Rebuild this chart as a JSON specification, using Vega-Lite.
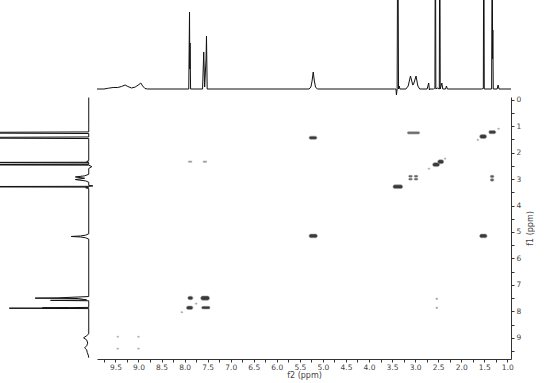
{
  "$schema": "https://vega.github.io/schema/vega-lite/v6.json",
  "padding": 0,
  "background": "white",
  "columns": 2,
  "spacing": 0,
  "bounds": "flush",
  "datasets": {
    "top": [
      {"ppm": 9.9, "intensity": 0}, {"ppm": 9.75, "intensity": 0}, {"ppm": 9.65, "intensity": 0.8}, {"ppm": 9.55, "intensity": 1.5},
      {"ppm": 9.45, "intensity": 1.5}, {"ppm": 9.37, "intensity": 2.5}, {"ppm": 9.29, "intensity": 4}, {"ppm": 9.23, "intensity": 2.5},
      {"ppm": 9.15, "intensity": 1}, {"ppm": 9.07, "intensity": 2}, {"ppm": 8.99, "intensity": 4.5}, {"ppm": 8.95, "intensity": 6},
      {"ppm": 8.91, "intensity": 3}, {"ppm": 8.86, "intensity": 0.5}, {"ppm": 8.8, "intensity": 0},
      {"ppm": 7.91, "intensity": 0}, {"ppm": 7.893, "intensity": 77}, {"ppm": 7.887, "intensity": 20}, {"ppm": 7.882, "intensity": 46}, {"ppm": 7.87, "intensity": 0},
      {"ppm": 7.61, "intensity": 0}, {"ppm": 7.585, "intensity": 37}, {"ppm": 7.565, "intensity": 2}, {"ppm": 7.535, "intensity": 30}, {"ppm": 7.525, "intensity": 53}, {"ppm": 7.51, "intensity": 0},
      {"ppm": 5.3, "intensity": 0}, {"ppm": 5.26, "intensity": 2}, {"ppm": 5.235, "intensity": 8}, {"ppm": 5.21, "intensity": 17}, {"ppm": 5.185, "intensity": 8}, {"ppm": 5.16, "intensity": 2}, {"ppm": 5.12, "intensity": 0},
      {"ppm": 3.45, "intensity": 0}, {"ppm": 3.415, "intensity": 0}, {"ppm": 3.405, "intensity": -6}, {"ppm": 3.39, "intensity": 0}, {"ppm": 3.375, "intensity": 200}, {"ppm": 3.36, "intensity": 0}, {"ppm": 3.345, "intensity": 3}, {"ppm": 3.33, "intensity": 0},
      {"ppm": 3.2, "intensity": 0}, {"ppm": 3.15, "intensity": 3}, {"ppm": 3.1, "intensity": 13}, {"ppm": 3.05, "intensity": 4}, {"ppm": 3.035, "intensity": 4.5}, {"ppm": 2.98, "intensity": 13}, {"ppm": 2.94, "intensity": 3}, {"ppm": 2.9, "intensity": 0},
      {"ppm": 2.74, "intensity": 0}, {"ppm": 2.705, "intensity": 6}, {"ppm": 2.69, "intensity": -1}, {"ppm": 2.68, "intensity": 0},
      {"ppm": 2.6, "intensity": 0}, {"ppm": 2.57, "intensity": 1}, {"ppm": 2.56, "intensity": 200}, {"ppm": 2.55, "intensity": 0}, {"ppm": 2.52, "intensity": 1},
      {"ppm": 2.475, "intensity": 0}, {"ppm": 2.465, "intensity": 200}, {"ppm": 2.455, "intensity": 0}, {"ppm": 2.42, "intensity": 6}, {"ppm": 2.4, "intensity": 0},
      {"ppm": 2.34, "intensity": 0}, {"ppm": 2.32, "intensity": 3}, {"ppm": 2.3, "intensity": 0},
      {"ppm": 1.56, "intensity": 0}, {"ppm": 1.52, "intensity": 0.5}, {"ppm": 1.51, "intensity": 200}, {"ppm": 1.5, "intensity": 0},
      {"ppm": 1.34, "intensity": 0}, {"ppm": 1.326, "intensity": 200}, {"ppm": 1.32, "intensity": 30}, {"ppm": 1.314, "intensity": 59}, {"ppm": 1.305, "intensity": 0},
      {"ppm": 1.22, "intensity": 0}, {"ppm": 1.2, "intensity": 4}, {"ppm": 1.18, "intensity": 0}, {"ppm": 0.92, "intensity": 0}
    ],
    "left": [
      {"ppm": -0.08, "intensity": 0}, {"ppm": 1.0, "intensity": 0}, {"ppm": 1.22, "intensity": 0}, {"ppm": 1.25, "intensity": 200}, {"ppm": 1.28, "intensity": 0},
      {"ppm": 1.41, "intensity": 0}, {"ppm": 1.44, "intensity": 200}, {"ppm": 1.47, "intensity": 0},
      {"ppm": 2.3, "intensity": 0}, {"ppm": 2.34, "intensity": 2}, {"ppm": 2.365, "intensity": 0}, {"ppm": 2.375, "intensity": 200}, {"ppm": 2.39, "intensity": 0},
      {"ppm": 2.445, "intensity": 0}, {"ppm": 2.46, "intensity": 200}, {"ppm": 2.475, "intensity": 0}, {"ppm": 2.53, "intensity": -3}, {"ppm": 2.6, "intensity": 0},
      {"ppm": 2.82, "intensity": 0}, {"ppm": 2.88, "intensity": 4}, {"ppm": 2.92, "intensity": 13}, {"ppm": 2.97, "intensity": 4}, {"ppm": 3.02, "intensity": 13}, {"ppm": 3.07, "intensity": 3}, {"ppm": 3.12, "intensity": 0},
      {"ppm": 3.24, "intensity": 0}, {"ppm": 3.26, "intensity": -4}, {"ppm": 3.275, "intensity": 0}, {"ppm": 3.29, "intensity": 200}, {"ppm": 3.305, "intensity": 0}, {"ppm": 3.33, "intensity": 3}, {"ppm": 3.36, "intensity": 0},
      {"ppm": 5.07, "intensity": 0}, {"ppm": 5.12, "intensity": 3}, {"ppm": 5.15, "intensity": 8}, {"ppm": 5.17, "intensity": 17}, {"ppm": 5.19, "intensity": 8}, {"ppm": 5.22, "intensity": 3}, {"ppm": 5.27, "intensity": 0},
      {"ppm": 7.44, "intensity": 0}, {"ppm": 7.49, "intensity": 30}, {"ppm": 7.5, "intensity": 52}, {"ppm": 7.515, "intensity": 10}, {"ppm": 7.57, "intensity": 2}, {"ppm": 7.585, "intensity": 37}, {"ppm": 7.6, "intensity": 0},
      {"ppm": 7.85, "intensity": 0}, {"ppm": 7.87, "intensity": 45}, {"ppm": 7.875, "intensity": 20}, {"ppm": 7.88, "intensity": 77}, {"ppm": 7.895, "intensity": 0},
      {"ppm": 8.85, "intensity": 0}, {"ppm": 8.92, "intensity": 2}, {"ppm": 9.0, "intensity": 5}, {"ppm": 9.08, "intensity": 2}, {"ppm": 9.2, "intensity": 1},
      {"ppm": 9.3, "intensity": 2}, {"ppm": 9.38, "intensity": 4}, {"ppm": 9.45, "intensity": 2}, {"ppm": 9.55, "intensity": 1.5}, {"ppm": 9.65, "intensity": 0.5}, {"ppm": 9.75, "intensity": 0}
    ],
    "peaks": [
      {"x1": 5.3, "x2": 5.13, "y1": 1.38, "y2": 1.5, "level": 1},
      {"x1": 3.17, "x2": 2.9, "y1": 1.21, "y2": 1.3, "level": 0.7},
      {"x1": 1.6, "x2": 1.45, "y1": 1.32, "y2": 1.47, "level": 1},
      {"x1": 1.4, "x2": 1.25, "y1": 1.17, "y2": 1.29, "level": 1},
      {"x1": 2.62, "x2": 2.47, "y1": 2.38, "y2": 2.53, "level": 1},
      {"x1": 2.51, "x2": 2.38, "y1": 2.27, "y2": 2.42, "level": 1},
      {"x1": 1.37, "x2": 1.29, "y1": 2.86, "y2": 2.95, "level": 0.8},
      {"x1": 1.37, "x2": 1.29, "y1": 2.99, "y2": 3.08, "level": 0.8},
      {"x1": 3.14, "x2": 3.06, "y1": 2.86, "y2": 2.93, "level": 0.8},
      {"x1": 3.02, "x2": 2.94, "y1": 2.86, "y2": 2.93, "level": 0.8},
      {"x1": 3.14, "x2": 3.06, "y1": 2.97, "y2": 3.04, "level": 0.8},
      {"x1": 3.02, "x2": 2.94, "y1": 2.97, "y2": 3.04, "level": 0.8},
      {"x1": 3.48, "x2": 3.27, "y1": 3.22, "y2": 3.36, "level": 1},
      {"x1": 5.3, "x2": 5.12, "y1": 5.08, "y2": 5.22, "level": 1},
      {"x1": 1.6, "x2": 1.44, "y1": 5.08, "y2": 5.22, "level": 1},
      {"x1": 7.93, "x2": 7.82, "y1": 7.43, "y2": 7.56, "level": 1},
      {"x1": 7.65, "x2": 7.46, "y1": 7.42, "y2": 7.58, "level": 1},
      {"x1": 7.96, "x2": 7.82, "y1": 7.8, "y2": 7.93, "level": 1},
      {"x1": 7.63, "x2": 7.45, "y1": 7.81, "y2": 7.91, "level": 1},
      {"x1": 7.77, "x2": 7.73, "y1": 7.69, "y2": 7.73, "level": 0.4},
      {"x1": 8.08, "x2": 8.04, "y1": 8.01, "y2": 8.05, "level": 0.4},
      {"x1": 2.55, "x2": 2.51, "y1": 7.5, "y2": 7.55, "level": 0.5},
      {"x1": 2.55, "x2": 2.51, "y1": 7.84, "y2": 7.89, "level": 0.5},
      {"x1": 7.92, "x2": 7.84, "y1": 2.32, "y2": 2.37, "level": 0.4},
      {"x1": 7.6, "x2": 7.52, "y1": 2.32, "y2": 2.37, "level": 0.4},
      {"x1": 9.47, "x2": 9.43, "y1": 8.94, "y2": 8.98, "level": 0.25},
      {"x1": 9.02, "x2": 8.98, "y1": 8.94, "y2": 8.98, "level": 0.25},
      {"x1": 9.47, "x2": 9.43, "y1": 9.39, "y2": 9.43, "level": 0.25},
      {"x1": 9.02, "x2": 8.98, "y1": 9.39, "y2": 9.43, "level": 0.25},
      {"x1": 2.72, "x2": 2.68, "y1": 2.59, "y2": 2.63, "level": 0.3},
      {"x1": 2.37, "x2": 2.33, "y1": 2.21, "y2": 2.25, "level": 0.3},
      {"x1": 1.21, "x2": 1.17, "y1": 1.08, "y2": 1.12, "level": 0.3},
      {"x1": 1.66, "x2": 1.62, "y1": 1.5, "y2": 1.54, "level": 0.3}
    ]
  },
  "concat": [
    {
      "width": 97, "height": 97,
      "data": {"values": [{"a": 0}]},
      "mark": {"type": "point", "opacity": 0},
      "encoding": {}
    },
    {
      "width": 414, "height": 97,
      "data": {"name": "top"},
      "mark": {"type": "line", "clip": true, "color": "#111", "strokeWidth": 1},
      "encoding": {
        "x": {"field": "ppm", "type": "quantitative", "scale": {"domain": [0.92, 9.9], "reverse": true, "nice": false, "zero": false}, "axis": null},
        "y": {"field": "intensity", "type": "quantitative", "scale": {"domain": [-8, 89], "nice": false, "zero": false}, "axis": null}
      }
    },
    {
      "width": 97, "height": 262,
      "data": {"name": "left"},
      "mark": {"type": "line", "clip": true, "color": "#111", "strokeWidth": 1},
      "encoding": {
        "x": {"field": "intensity", "type": "quantitative", "scale": {"domain": [-8, 86], "reverse": true, "nice": false, "zero": false}, "axis": null},
        "y": {"field": "ppm", "type": "quantitative", "scale": {"domain": [-0.1, 9.8], "reverse": true, "nice": false, "zero": false}, "axis": null},
        "order": {"field": "ppm", "type": "quantitative"}
      }
    },
    {
      "width": 414, "height": 262,
      "data": {"name": "peaks"},
      "mark": {"type": "rect", "cornerRadius": 2, "stroke": "#9a9a9a", "strokeWidth": 0.8, "strokeOpacity": 0.7},
      "encoding": {
        "x": {"field": "x1", "type": "quantitative",
          "scale": {"domain": [0.92, 9.9], "reverse": true, "nice": false, "zero": false},
          "axis": {"title": "f2 (ppm)", "orient": "bottom",
            "values": [1, 1.25, 1.5, 1.75, 2, 2.25, 2.5, 2.75, 3, 3.25, 3.5, 3.75, 4, 4.25, 4.5, 4.75, 5, 5.25, 5.5, 5.75, 6, 6.25, 6.5, 6.75, 7, 7.25, 7.5, 7.75, 8, 8.25, 8.5, 8.75, 9, 9.25, 9.5, 9.75],
            "labelExpr": "(datum.value * 2) % 1 == 0 ? format(datum.value, '.1f') : ''",
            "tickSize": 3, "labelPadding": 1, "titlePadding": 1, "grid": false, "labelOverlap": false, "labelFlush": false}},
        "x2": {"field": "x2"},
        "y": {"field": "y1", "type": "quantitative",
          "scale": {"domain": [-0.1, 9.8], "reverse": true, "nice": false, "zero": false},
          "axis": {"title": "f1 (ppm)", "orient": "right",
            "values": [0, 0.5, 1, 1.5, 2, 2.5, 3, 3.5, 4, 4.5, 5, 5.5, 6, 6.5, 7, 7.5, 8, 8.5, 9, 9.5],
            "labelExpr": "datum.value % 1 == 0 ? format(datum.value, 'd') : ''",
            "tickSize": 3, "labelPadding": 2, "titlePadding": 14, "titleAngle": 270, "grid": false, "labelOverlap": false, "labelFlush": false}},
        "y2": {"field": "y2"},
        "color": {"field": "level", "type": "quantitative", "scale": {"domain": [0, 1], "range": ["#f0f0f0", "#3a3a3a"]}, "legend": null}
      }
    }
  ],
  "config": {
    "view": {"stroke": null},
    "font": "DejaVu Sans",
    "axis": {
      "labelFont": "DejaVu Sans", "labelFontSize": 7.5, "labelColor": "#444",
      "titleFont": "DejaVu Sans", "titleFontSize": 8, "titleFontWeight": "normal", "titleColor": "#444",
      "domainColor": "#333", "tickColor": "#333", "domainWidth": 1, "tickWidth": 1
    }
  }
}
